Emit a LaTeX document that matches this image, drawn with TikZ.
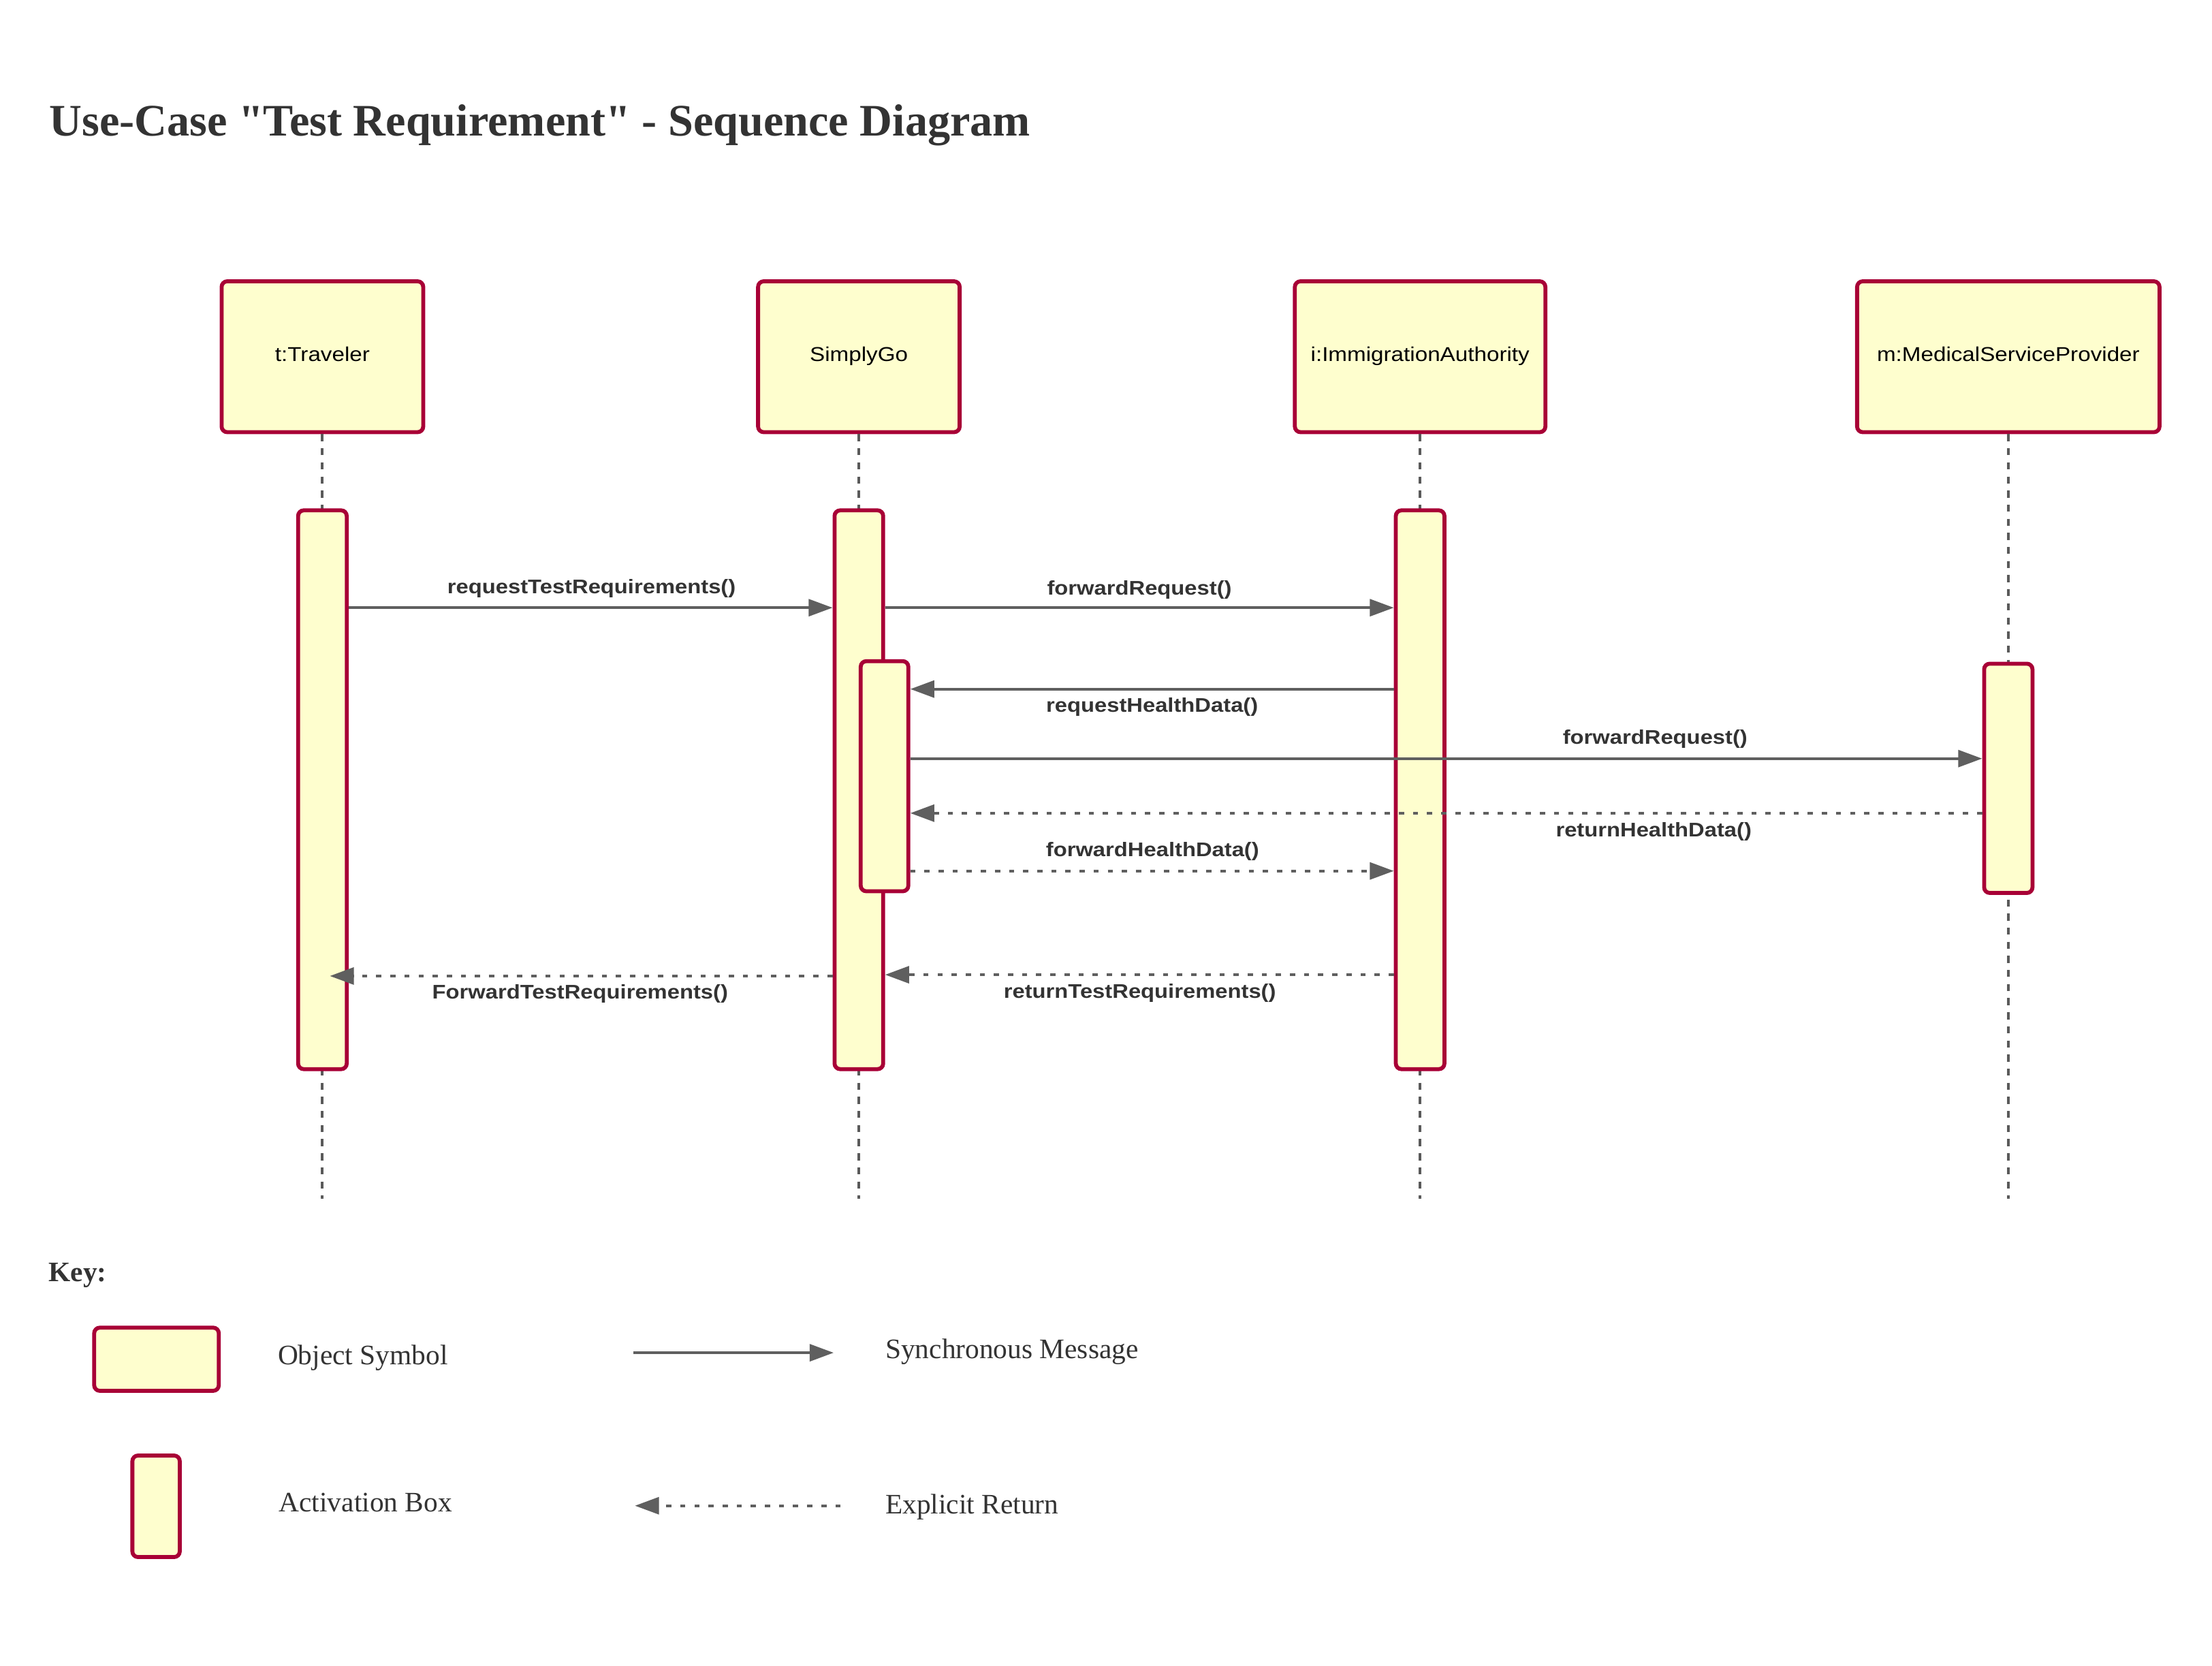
\documentclass[tikz,border=0pt]{standalone}
\usepackage{fontspec}
\setmainfont{Liberation Serif}
\newfontfamily\serifplain{Liberation Serif}
\newfontfamily\lsans[FakeStretch=1.13]{Liberation Sans}
\usetikzlibrary{arrows.meta}
\definecolor{boxfill}{HTML}{FEFECE}
\definecolor{boxline}{HTML}{A80036}
\definecolor{arrowc}{HTML}{5F5F5F}
\definecolor{lifec}{HTML}{5A5A5A}
\definecolor{txt}{HTML}{333333}
\begin{document}
\begin{tikzpicture}[x=1bp,y=-1bp,
  obj/.style={draw=boxline, fill=boxfill, line width=2.8bp, rounded corners=4bp, inner sep=0,
    font=\lsans\fontsize{14.2bp}{16bp}\selectfont, text=black, text height=6.8bp, text depth=0bp,
    minimum height=107bp},
  act/.style={draw=boxline, fill=boxfill, line width=2.8bp, rounded corners=4bp, inner sep=0,
    minimum width=34.5bp},
  lifeline/.style={draw=lifec, line width=1.9bp, dash pattern=on 5bp off 5bp},
  sync/.style={draw=arrowc, line width=1.9bp, -{Triangle[length=17bp,width=12bp]}},
  ret/.style={draw=arrowc, line width=1.9bp, dash pattern=on 3.7bp off 6.3bp, -{Triangle[length=17bp,width=12bp]}},
  msg/.style={font=\lsans\bfseries\fontsize{14bp}{16bp}\selectfont, text=txt, inner sep=0, anchor=base},
  keytxt/.style={font=\fontsize{20bp}{24bp}\selectfont, text=txt, inner sep=0, anchor=base west},
]
\fill[white] (0,0) rectangle (1569,1181.1);
\useasboundingbox (0,0) rectangle (1569,1181.1);

% title
\node[anchor=base west, inner sep=0, font=\serifplain\bfseries\fontsize{32bp}{36bp}\selectfont, text=txt] (title) at (34.8,96.3) {Use-Case "Test Requirement" - Sequence Diagram};

% object headers
\node[obj, minimum width=143bp] (trav) at (228.7,253) {t:Traveler};
\node[obj, minimum width=143bp] (simp) at (609.2,253) {SimplyGo};
\node[obj, minimum width=177.7bp] (immi) at (1007.3,253) {i:ImmigrationAuthority};
\node[obj, minimum width=214.5bp] (medi) at (1424.5,253) {m:MedicalServiceProvider};

% lifelines
\coordinate (travEnd) at (228.7,850);
\coordinate (simpEnd) at (609.2,850);
\coordinate (immiEnd) at (1007.3,850);
\coordinate (mediEnd) at (1424.5,850);
\draw[lifeline] (trav.south) -- (travEnd);
\draw[lifeline] (simp.south) -- (simpEnd);
\draw[lifeline] (immi.south) -- (immiEnd);
\draw[lifeline] (medi.south) -- (mediEnd);

% activation boxes
\node[act, minimum height=396.3bp] (tact) at (228.7,560.1) {};
\node[act, minimum height=396.3bp] (sact) at (609.2,560.1) {};
\node[act, minimum height=396.3bp] (iact) at (1007.3,560.1) {};
\node[act, minimum width=33.8bp, minimum height=163.2bp] (nact) at (627.4,550.5) {};
\node[act, minimum width=34.3bp, minimum height=162.6bp] (mact) at (1424.5,552) {};

% message levels
\coordinate (y1) at (0,431);
\coordinate (y2) at (0,488.7);
\coordinate (y3) at (0,538);
\coordinate (y4) at (0,576.7);
\coordinate (y5) at (0,617.7);
\coordinate (y6) at (0,691.3);
\coordinate (y7) at (0,692.2);
\coordinate (tipF) at (234,692.2);

\draw[sync] (tact.east |- y1) -- (sact.west |- y1);
\draw[sync] (sact.east |- y1) -- (iact.west |- y1);
\draw[sync] (iact.west |- y2) -- (nact.east |- y2);
\draw[sync] (nact.east |- y3) -- (mact.west |- y3);
\draw[ret] (mact.west |- y4) -- (nact.east |- y4);
\draw[ret] (nact.east |- y5) -- (iact.west |- y5);
\draw[ret] (iact.west |- y6) -- (sact.east |- y6);
\draw[ret] (sact.west |- y7) -- (tipF);

% message labels
\node[msg] (l1) at (419.6,421.1) {requestTestRequirements()};
\node[msg] (l2) at (808.2,422) {forwardRequest()};
\node[msg] (l3) at (817.2,505) {requestHealthData()};
\node[msg] (l4) at (1174,527.9) {forwardRequest()};
\node[msg] (l5) at (1173,593.4) {returnHealthData()};
\node[msg] (l6) at (817.5,607.5) {forwardHealthData()};
\node[msg] (l7) at (808.5,707.8) {returnTestRequirements()};
\node[msg] (l8) at (411.5,708.5) {ForwardTestRequirements()};

% key
\node[anchor=base west, inner sep=0, font=\bfseries\fontsize{20bp}{24bp}\selectfont, text=txt] (key) at (34.4,908.9) {Key:};
\node[obj, minimum width=88.4bp, minimum height=44.8bp] (kobj) at (111,964) {};
\node[act, minimum width=33.6bp, minimum height=72bp] (kact) at (110.7,1068.3) {};
\node[keytxt] (kt1) at (196.9,967.9) {Object Symbol};
\node[keytxt] (kt2) at (197.7,1072.1) {Activation Box};
\coordinate (ks1) at (449.3,959.4);
\coordinate (ks2) at (591.3,959.4);
\draw[sync] (ks1) -- (ks2);
\node[keytxt] (kt3) at (627.9,963.6) {Synchronous Message};
\coordinate (kr1) at (596.2,1067.9);
\coordinate (kr2) at (450.4,1067.9);
\draw[ret] (kr1) -- (kr2);
\node[keytxt] (kt4) at (627.9,1073.8) {Explicit Return};
\end{tikzpicture}
\end{document}
